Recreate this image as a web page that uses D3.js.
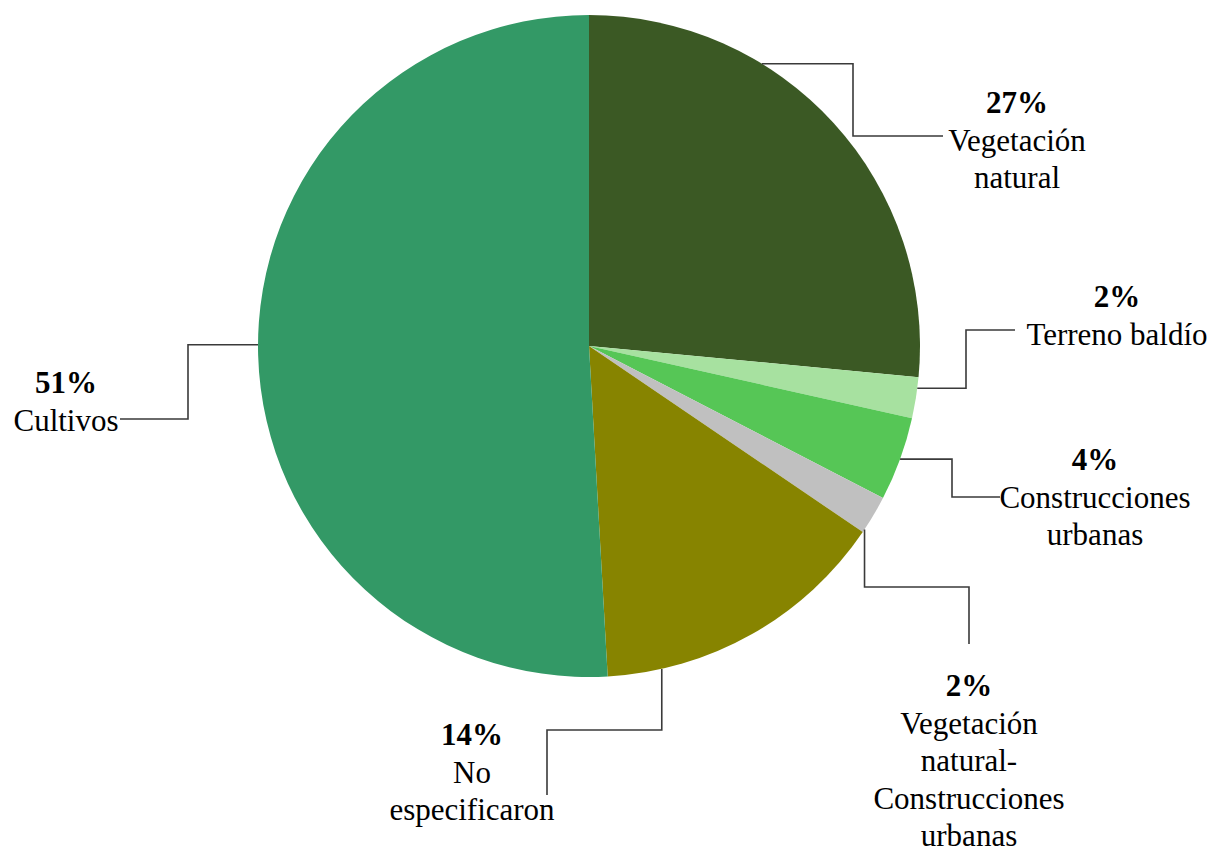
<!DOCTYPE html>
<html><head><meta charset="utf-8">
<script src="https://cdn.jsdelivr.net/npm/d3@7"></script>
<style>html,body{margin:0;padding:0;background:#fff}
text{font-family:"Tinos","Liberation Serif","Noto Serif","DejaVu Serif","FreeSerif","Times",serif;}</style>
</head><body>
<svg id="chart" width="1212" height="852"></svg>
<script>
const categories = ["Vegetación natural","Terreno baldío","Construcciones urbanas","Vegetación natural-Construcciones urbanas","No especificaron","Cultivos"];
const values = [26.5, 2.0, 4.1, 1.9, 14.6, 50.9];
const percentLabels = ["27%","2%","4%","2%","14%","51%"];
const nameLines = [["Vegetación","natural"],["Terreno baldío"],["Construcciones","urbanas"],["Vegetación","natural-","Construcciones","urbanas"],["No","especificaron"],["Cultivos"]];
const colors = ["#3b5924","#a7e1a0","#56c656","#c0c0c0","#878400","#339966"];

const svg = d3.select("#chart");
const cx = 589, cy = 346, R = 331;
const g = svg.append("g").attr("transform", `translate(${cx},${cy})`);
const pie = d3.pie().sort(null).value(d => d)(values);
const arc = d3.arc().innerRadius(0).outerRadius(R);
g.selectAll("path.slice").data(pie).enter().append("path")
  .attr("d", arc).attr("fill", (d,i) => colors[i]);

const layout = [
  {frac:0.33, mode:"h", ex:853, ey:136, endX:943, tx:1017, ty:103},
  {frac:0.27, mode:"h", ex:966, ey:330, endX:1015, tx:1117, ty:297},
  {frac:0.5,  mode:"h", ex:952, ey:497, endX:1000, tx:1095, ty:460},
  {frac:0.92, mode:"v", ey:587, endX:969, endY:644, tx:969, ty:686},
  {frac:0.82, mode:"v", ey:730, endX:547, endY:795, tx:472, ty:735},
  {frac:0.51, mode:"h", ex:188, ey:419, endX:120, tx:66, ty:383}
];
const lineH = 37.5;
pie.forEach((d,i) => {
  const L = layout[i];
  const a = d.startAngle + (d.endAngle - d.startAngle) * L.frac;
  const sx = cx + R * Math.sin(a), sy = cy - R * Math.cos(a);
  let pts;
  if (L.mode === "h") pts = [[sx,sy],[L.ex,sy],[L.ex,L.ey],[L.endX,L.ey]];
  else pts = [[sx,sy],[sx,L.ey],[L.endX,L.ey],[L.endX,L.endY]];
  svg.append("path").attr("d", d3.line()(pts))
    .attr("fill","none").attr("stroke","#3a3a3a").attr("stroke-width",1.6);
  const t = svg.append("text").attr("text-anchor","middle")
    .attr("font-size",31).attr("fill","#000");
  t.append("tspan").attr("x",L.tx).attr("y",L.ty+10).attr("font-weight","bold").text(percentLabels[i]);
  nameLines[i].forEach((s,k) => {
    t.append("tspan").attr("x",L.tx).attr("y",L.ty+10+lineH*(k+1)).text(s);
  });
});
</script>
</body></html>
